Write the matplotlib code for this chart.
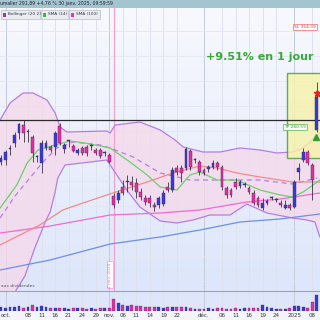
import matplotlib
matplotlib.use("Agg")
import matplotlib.pyplot as plt
import numpy as np
from matplotlib.colors import LinearSegmentedColormap
from matplotlib.patches import Rectangle

# ---------------- data ----------------
dates = ["30/09", "01/10", "02/10", "03/10", "04/10", "07/10", "08/10", "09/10", "10/10", "11/10",
         "14/10", "15/10", "16/10", "17/10", "18/10", "21/10", "22/10", "23/10", "24/10", "25/10",
         "28/10", "29/10", "30/10", "31/10", "01/11", "04/11", "05/11", "06/11", "07/11", "08/11",
         "11/11", "12/11", "13/11", "14/11", "15/11", "18/11", "19/11", "20/11", "21/11", "22/11",
         "25/11", "26/11", "27/11", "28/11", "29/11", "02/12", "03/12", "04/12", "05/12", "06/12",
         "09/12", "10/12", "11/12", "12/12", "13/12", "16/12", "17/12", "18/12", "19/12", "20/12",
         "23/12", "24/12", "27/12", "30/12", "31/12", "02/01", "03/01", "06/01", "07/01", "08/01",
         "09/01"]
opens = [259.4, 260.4, 265.9, 268.9, 273.9, 277.9, 274.4, 271.9, 261.9, 258.9,
         266.4, 266.9, 266.9, 277.4, 265.9, 269.9, 267.4, 263.9, 266.4, 266.9,
         267.4, 265.4, 265.4, 263.9, 262.9, 242.4, 240.4, 246.9, 249.4, 249.4,
         248.9, 244.4, 241.4, 241.4, 237.9, 237.9, 238.4, 246.9, 245.4, 256.4,
         256.4, 256.4, 264.9, 260.4, 259.4, 255.4, 255.9, 256.9, 258.9, 256.9,
         246.4, 245.4, 249.4, 247.4, 247.9, 246.4, 243.9, 241.4, 236.4, 238.9,
         241.4, 240.4, 238.9, 236.4, 237.9, 236.9, 254.4, 260.4, 264.4, 257.9,
         275.4]
closes = [261.4, 264.4, 266.0, 272.9, 278.4, 273.9, 274.5, 263.9, 262.0, 268.9,
          268.9, 265.4, 273.9, 268.9, 267.9, 270.0, 264.9, 265.4, 263.9, 263.9,
          267.5, 263.9, 262.4, 264.0, 259.4, 237.9, 243.9, 243.9, 249.5, 247.9,
          244.4, 241.9, 239.4, 238.9, 236.9, 241.4, 243.9, 245.4, 255.4, 254.4,
          253.9, 265.9, 256.9, 260.5, 254.4, 253.9, 256.9, 258.9, 256.9, 246.9,
          242.9, 242.9, 246.9, 249.4, 248.0, 244.4, 238.9, 237.9, 238.9, 239.9,
          241.5, 240.5, 237.9, 237.9, 236.4, 249.4, 256.4, 264.4, 258.9, 250.4,
          291.89]
highs = [262.9, 265.4, 267.9, 274.4, 278.9, 280.4, 275.9, 272.9, 262.9, 270.4,
         270.4, 267.9, 274.9, 278.9, 268.9, 270.4, 268.4, 266.4, 267.4, 267.9,
         268.4, 266.4, 266.4, 264.9, 263.9, 243.9, 245.4, 250.4, 252.9, 252.4,
         251.4, 246.4, 242.9, 242.9, 239.4, 242.4, 245.4, 249.4, 256.9, 257.9,
         257.9, 266.9, 265.9, 261.4, 260.4, 256.4, 257.9, 260.4, 259.9, 257.9,
         247.4, 246.4, 251.4, 250.4, 249.4, 247.4, 245.4, 242.4, 241.4, 240.9,
         242.4, 241.4, 240.4, 240.4, 238.9, 250.4, 258.9, 266.4, 265.4, 258.9,
         299.4]
lows = [257.9, 257.9, 262.9, 266.9, 270.9, 269.4, 269.4, 259.4, 259.4, 253.9,
        265.4, 264.4, 262.9, 267.9, 263.9, 266.9, 264.4, 262.9, 262.9, 262.4,
        265.4, 262.9, 261.4, 262.4, 258.9, 236.4, 238.9, 242.9, 244.4, 245.4,
        241.4, 240.4, 237.9, 236.9, 234.9, 236.4, 237.4, 244.4, 244.4, 252.9,
        249.4, 255.4, 255.4, 258.9, 252.9, 252.9, 254.4, 255.9, 255.4, 245.4,
        241.4, 241.9, 245.9, 246.4, 246.9, 243.4, 237.9, 236.9, 235.4, 237.9,
        240.4, 239.4, 236.9, 235.9, 235.4, 236.4, 250.4, 259.4, 257.9, 240.4,
        274.4]
volumes = [370, 330, 430, 430, 500, 330, 430, 600, 370, 500,
           370, 270, 330, 330, 270, 230, 270, 270, 270, 230,
           270, 200, 270, 330, 270, 1170, 770, 600, 500, 600,
           500, 500, 430, 370, 430, 370, 330, 370, 370, 370,
           430, 430, 270, 200, 200, 200, 270, 200, 270, 270,
           200, 200, 270, 200, 270, 330, 330, 330, 600, 430,
           330, 200, 170, 200, 270, 500, 500, 430, 330, 870,
           1600]

# indicator polylines (candle index, price)
boll_up_x = [-0.2, 2.0, 4.9, 7.1, 10.2, 12.0, 13.1, 14.6, 23.5, 24.2, 25.3, 30.8, 35.3, 38.6,
             40.4, 44.8, 48.6, 53.0, 57.4, 61.2, 64.7, 67.0, 70.7]
boll_up_y = [280.4, 288.9, 293.9, 293.9, 290.4, 283.9, 276.9, 274.4, 274.9, 273.9, 277.9, 279.4,
             275.4, 270.4, 266.9, 264.4, 264.4, 266.4, 265.4, 263.9, 264.4, 266.4, 273.9]
boll_lo_x = [-0.2, 2.0, 5.3, 7.5, 9.8, 10.9, 12.0, 12.6, 14.2, 23.5, 24.2, 27.9, 30.8, 35.3,
             39.0, 42.6, 46.3, 50.8, 54.5, 59.0, 64.7, 67.8, 69.6, 70.7]
boll_lo_y = [182.4, 190.4, 202.4, 216.4, 229.4, 234.4, 244.4, 251.4, 257.9, 260.4, 257.9, 245.4,
             236.9, 229.9, 228.9, 230.4, 232.9, 232.9, 238.4, 233.9, 231.4, 230.4, 229.4, 221.9]
boll_mid_x = [-0.2, 3.1, 6.4, 9.3, 12.4, 16.0, 22.0, 24.2, 29.3, 35.3, 41.9, 46.3, 52.3, 57.4,
              64.7, 70.1]
boll_mid_y = [231.4, 242.4, 251.4, 259.4, 266.4, 269.4, 267.9, 266.4, 261.9, 253.9, 250.4, 250.4,
              250.4, 250.4, 248.4, 251.4]
sma14_x = [-0.2, 3.5, 5.8, 8.2, 12.0, 15.3, 18.6, 22.0, 24.2, 28.6, 32.4, 35.3, 39.0, 41.9,
           44.1, 47.9, 52.3, 57.4, 61.9, 64.7, 67.0, 69.2, 70.7]
sma14_y = [236.4, 247.9, 258.9, 265.4, 267.9, 269.9, 268.9, 267.4, 266.4, 259.4, 252.9, 246.9,
           245.4, 252.9, 254.4, 250.4, 250.4, 245.4, 242.9, 241.9, 244.4, 247.9, 250.4]
sma50_x = [-0.2, 8.6, 13.7, 18.2, 24.8, 32.4, 38.1, 44.1, 47.9, 52.3, 57.4, 64.7, 70.7]
sma50_y = [217.9, 227.9, 235.4, 238.9, 243.9, 249.4, 253.9, 257.4, 256.4, 253.9, 251.9, 249.4,
           249.4]
sma100_x = [-0.2, 10.9, 24.2, 35.3, 44.1, 54.5, 61.9, 70.7]
sma100_y = [223.9, 227.4, 232.9, 233.9, 235.4, 239.4, 240.9, 243.9]
sma200_x = [-0.2, 10.9, 24.2, 35.3, 44.1, 53.0, 61.9, 70.7]
sma200_y = [205.4, 210.4, 218.4, 221.9, 225.4, 229.4, 230.9, 233.4]

tick_idx = [1, 6, 9, 12, 15, 18, 21, 24, 27, 30, 33, 36, 39, 45, 49, 52, 55, 58, 61, 65, 69]
tick_lbl = ["oct.", "08", "11", "16", "21", "24", "29", "nov.", "06", "11", "14", "19", "22",
            "déc.", "06", "11", "16", "19", "24", "2025", "08"]
month_ticks = [1, 24, 45, 65]

tp_level = 280.59
sl_level = 354.39
dividend_idx = 25

# ---------------- style ----------------
BLUE = "#3838e0"
PINK = "#ec2aa6"
WICK = "#333344"
XMIN, XMAX = -0.22, 70.73
YMIN, YMAX = 194.9, 336.4

fig = plt.figure(figsize=(3.2, 3.2), dpi=100)
fig.patch.set_facecolor("#f4f5f8")

ax = fig.add_axes([0, 29 / 320, 1, 283 / 320])
vax = fig.add_axes([0, 9 / 320, 1, 20 / 320])

# background gradient
cmap = LinearSegmentedColormap.from_list("bg", ["#dde6fa", "#f8f9fe"])
grad = np.linspace(0, 1, 256).reshape(-1, 1)
ax.imshow(grad, extent=[XMIN, XMAX, YMIN, YMAX], origin="lower", aspect="auto", cmap=cmap, zorder=0)
vax.set_facecolor("#dfe6fa")

# grid
for t in tick_idx:
    c = "#c4cbd8" if t in month_ticks else "#dde2ee"
    ax.axvline(t, color=c, lw=0.7, zorder=0.5)
    vax.axvline(t, color=c, lw=0.7, zorder=0.5)
for yv in np.arange(200, 340, 12.5):
    ax.axhline(yv, color="#e3e7f2", lw=0.6, zorder=0.5)

# Bollinger band fill
poly_x = list(boll_up_x) + list(boll_lo_x[::-1])
poly_y = list(boll_up_y) + list(boll_lo_y[::-1])
ax.fill(poly_x, poly_y, color="#f6d8ea", alpha=0.75, lw=0, zorder=1)
ax.plot(boll_up_x, boll_up_y, color="#b47ee0", lw=0.9, zorder=2)
ax.plot(boll_lo_x, boll_lo_y, color="#b47ee0", lw=0.9, zorder=2)
ax.plot(boll_mid_x, boll_mid_y, color="#b47ee0", lw=0.9, ls=(0, (4, 3)), zorder=2)

ax.plot(sma200_x, sma200_y, color="#6f8fe6", lw=0.9, zorder=2)
ax.plot(sma100_x, sma100_y, color="#f26ad2", lw=0.9, zorder=2)
ax.plot(sma50_x, sma50_y, color="#f28a8a", lw=0.9, zorder=2)
ax.plot(sma14_x, sma14_y, color="#6ccf6c", lw=0.9, zorder=2)

# resistance / TP line
ax.axhline(tp_level, color="#2a2a2a", lw=0.9, zorder=3)

# dividend marker
ax.axvline(dividend_idx, color="#f6a0d0", lw=0.9, zorder=1.5)

# target box
ax.add_patch(Rectangle((63.4, 261.4), 8.0, 42.5, facecolor="#f7f3a8", alpha=0.8,
                       edgecolor="#3a9a3a", lw=1.0, zorder=2.5))

# candles
x = np.arange(len(opens))
o = np.array(opens); c = np.array(closes); h = np.array(highs); l = np.array(lows)
col = [BLUE if cc >= oo else PINK for oo, cc in zip(o, c)]
ax.vlines(x, l, h, color=WICK, lw=0.6, zorder=4)
body = np.maximum(np.abs(c - o), 0.5)
ax.bar(x, body, bottom=np.minimum(o, c), width=0.62, color=col, edgecolor=WICK, lw=0.3, zorder=5)

# signal markers on last candle
ax.plot([x[-1]], [293.9], marker="*", color="#e02020", ms=5, zorder=6, lw=0)
ax.plot([x[-1] - 0.2], [271.9], marker="^", color="#3a9a3a", ms=4, zorder=6, lw=0)

# annotations
ax.text(57.4, 311.9, "+9.51% en 1 jour", color="#3aa83a", fontsize=8, fontweight="bold",
        ha="center", va="center", zorder=6)
ax.text(65.2, 276.9, "TP 280.59", color="#3a9a3a", fontsize=3.2, ha="center", va="center",
        zorder=6, bbox=dict(boxstyle="square,pad=0.25", fc="white", ec="#6cc06c", lw=0.6))
ax.text(67.4, 326.9, "SL 354.39", color="#e03040", fontsize=3.2, ha="center", va="center",
        zorder=6, bbox=dict(boxstyle="square,pad=0.25", fc="white", ec="#f08080", lw=0.6))
ax.text(dividend_idx - 0.8, 203, "4 nov. 2024", color="#f070b0", fontsize=3.2, rotation=90,
        ha="center", va="center", zorder=6,
        bbox=dict(boxstyle="square,pad=0.2", fc="white", ec="#f6a0d0", lw=0.5))
ax.text(0, 196.5, "aux dividendes", color="#555566", fontsize=3.2, ha="left", va="bottom", zorder=6)

ax.set_xlim(XMIN, XMAX)
ax.set_ylim(YMIN, YMAX)
ax.set_xticks([]); ax.set_yticks([])
for s in ax.spines.values():
    s.set_visible(False)

# volume
vax.bar(x, volumes, width=0.62, color=col, edgecolor=WICK, lw=0.2, zorder=3)
vax.set_xlim(XMIN, XMAX)
vax.set_ylim(0, 2000)
vax.set_yticks([])
vax.set_xticks(tick_idx)
vax.set_xticklabels(tick_lbl, fontsize=4, color="#333333")
vax.tick_params(axis="x", length=0, pad=1.5)
for s in vax.spines.values():
    s.set_visible(False)
vax.spines["top"].set_visible(True)
vax.spines["top"].set_color("#9aa4b8")
vax.spines["top"].set_linewidth(0.8)

# header bar
fig.patches.append(Rectangle((0, 312 / 320), 1, 8 / 320, transform=fig.transFigure,
                             facecolor="#a4c4d0", edgecolor="none", zorder=0))
fig.text(0.0, 316 / 320, "umalier 291,89 +4,76 % 30 janv. 2025, 09:59:59", fontsize=3.3,
         color="#222233", ha="left", va="center")

# legend row
leg_items = [("Bollinger (20 2)", "#9b30d0", 1, 40), ("SMA (14)", "#22cc22", 41, 68),
             ("SMA (100)", "#ff22cc", 69, 100)]
for label, lc, x0, x1 in leg_items:
    fig.patches.append(Rectangle((x0 / 320, 1 - 18.5 / 320), (x1 - x0) / 320, 8.5 / 320,
                                 transform=fig.transFigure, facecolor="#ebecf0",
                                 edgecolor="#b8bcc8", lw=0.5, zorder=1))
    fig.patches.append(Rectangle(((x0 + 1.5) / 320, 1 - 16.5 / 320), 3.5 / 320, 3.5 / 320,
                                 transform=fig.transFigure, facecolor=lc, edgecolor="none",
                                 zorder=2))
    fig.text((x0 + 6.5) / 320, 1 - 14.3 / 320, label, fontsize=3.1, color="#333344",
             ha="left", va="center")

fig.savefig("out.png", dpi=100)
